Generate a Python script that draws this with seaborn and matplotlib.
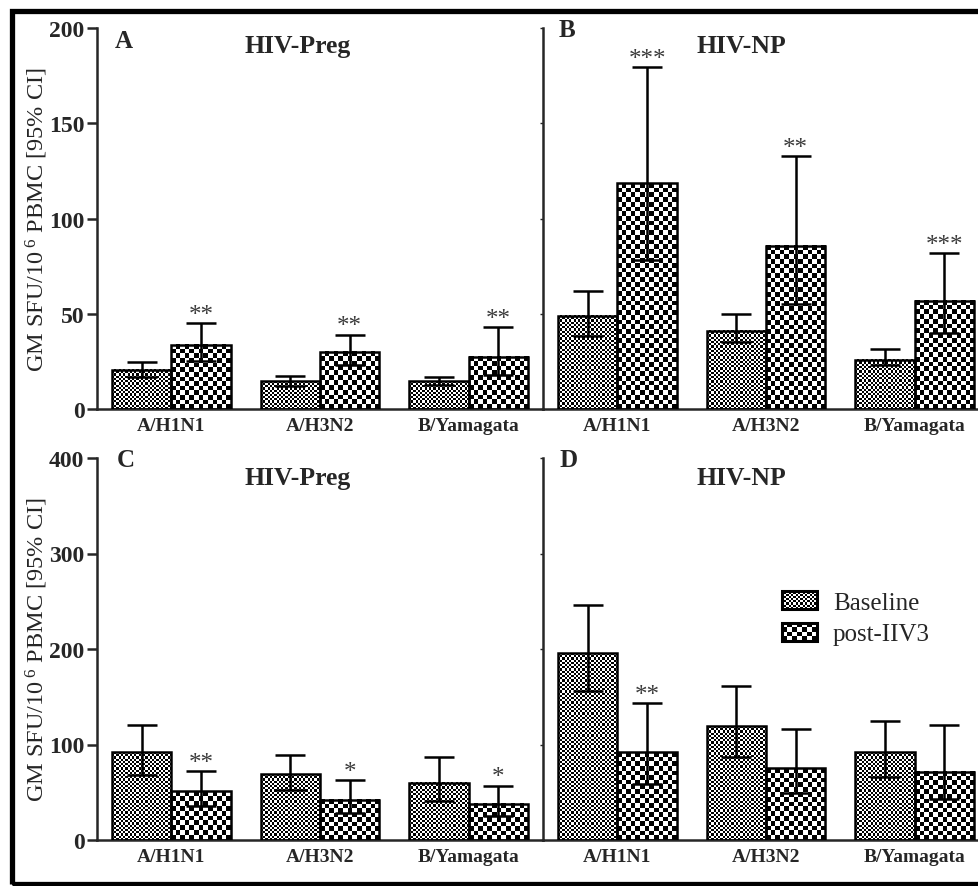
import numpy as np
import pandas as pd
import matplotlib
matplotlib.use("Agg")
import matplotlib.pyplot as plt
import seaborn as sns
from matplotlib.patches import Rectangle
from matplotlib.legend_handler import HandlerBase

# ---------------- data ----------------
categories = ["A/H1N1", "A/H3N2", "B/Yamagata"]
groups = ["Baseline", "post-IIV3"]

# Panel A (HIV-Preg, top)
A_base = [20.5, 14.6, 14.6]
A_base_lo = [17.0, 12.0, 12.5]
A_base_hi = [24.7, 17.5, 16.7]
A_post = [33.8, 30.0, 27.3]
A_post_lo = [25.0, 23.0, 18.0]
A_post_hi = [45.1, 39.0, 43.0]
A_stars = ["**", "**", "**"]

# Panel B (HIV-NP, top)
B_base = [49.0, 41.1, 25.9]
B_base_lo = [38.5, 35.0, 23.0]
B_base_hi = [62.0, 49.9, 31.3]
B_post = [118.5, 85.7, 56.9]
B_post_lo = [78.2, 55.0, 40.0]
B_post_hi = [179.4, 132.8, 81.9]
B_stars = ["***", "**", "***"]

# Panel C (HIV-Preg, bottom)
C_base = [91.8, 69.0, 59.7]
C_base_lo = [68.0, 52.7, 41.0]
C_base_hi = [120.7, 89.0, 87.3]
C_post = [51.0, 42.0, 37.7]
C_post_lo = [36.0, 28.0, 25.0]
C_post_hi = [72.0, 62.8, 57.0]
C_stars = ["**", "*", "*"]

# Panel D (HIV-NP, bottom)
D_base = [195.8, 119.0, 91.8]
D_base_lo = [156.0, 86.6, 65.6]
D_base_hi = [246.4, 161.6, 125.0]
D_post = [91.8, 75.0, 71.7]
D_post_lo = [58.6, 49.0, 43.0]
D_post_hi = [143.5, 116.0, 120.7]
D_stars = ["**", "", ""]

panel_letters = ["A", "B", "C", "D"]
panel_titles = ["HIV-Preg", "HIV-NP", "HIV-Preg", "HIV-NP"]
ylabel = "GM SFU/10$^{\\ 6}$ PBMC [95% CI]"

# ---------------- style ----------------
sns.set_theme(style="ticks")
plt.rcParams['font.family'] = ['Liberation Serif', 'DejaVu Serif']
plt.rcParams['mathtext.fontset'] = 'custom'
plt.rcParams['mathtext.rm'] = 'Liberation Serif'
plt.rcParams['mathtext.it'] = 'Liberation Serif:italic'
plt.rcParams['mathtext.bf'] = 'Liberation Serif:bold'

W, H = 979, 887
fig = plt.figure(figsize=(W / 100, H / 100), dpi=100)

def fpos(x0, y0, x1, y1):
    return [x0 / W, 1 - y1 / H, (x1 - x0) / W, (y1 - y0) / H]

ax_A = fig.add_axes(fpos(97, 29, 543, 410))
ax_B = fig.add_axes(fpos(543, 29, 989, 410))
ax_C = fig.add_axes(fpos(97, 459, 543, 841))
ax_D = fig.add_axes(fpos(543, 459, 989, 841))

CELL = {"Baseline": 2.2, "post-IIV3": 4.7}


def checker(nr, nc):
    i, j = np.indices((max(nr, 1), max(nc, 1)))
    return ((i + j) % 2).astype(float)


def draw_panel(ax, base, blo, bhi, post, plo, phi, stars, ymax, left):
    df = pd.DataFrame({
        "strain": categories * 2,
        "group": [groups[0]] * 3 + [groups[1]] * 3,
        "value": list(base) + list(post),
    })
    sns.barplot(data=df, x="strain", y="value", hue="group", order=categories,
                hue_order=groups, palette=["white", "white"], errorbar=None,
                width=0.8, legend=False, ax=ax, zorder=3)
    ax.set_xlim(-0.5, 2.5)
    ax.set_ylim(0, ymax)
    fig.canvas.draw()
    los = [blo, plo]
    his = [bhi, phi]
    vals = [base, post]
    conts = list(ax.containers)[:2]
    for gi, cont in enumerate(conts):
        for k, bar in enumerate(list(cont.patches)):
            x0 = bar.get_x()
            w = bar.get_width()
            h = bar.get_height()
            p0 = ax.transData.transform((x0, 0))
            p1 = ax.transData.transform((x0 + w, h))
            pw, ph = abs(p1[0] - p0[0]), abs(p1[1] - p0[1])
            cs = CELL[groups[gi]]
            arr = checker(int(round(ph / cs)), int(round(pw / cs)))
            ax.imshow(arr, cmap="gray", extent=[x0, x0 + w, 0, h],
                      interpolation="nearest", aspect="auto", zorder=2,
                      origin="lower")
            bar.set_facecolor("none")
            bar.set_edgecolor("black")
            bar.set_linewidth(1.8)
            bar.set_zorder(4)
            cx = x0 + w / 2
            v = vals[gi][k]
            ax.errorbar(cx, v, yerr=[[v - los[gi][k]], [his[gi][k] - v]],
                        fmt="none", ecolor="black", elinewidth=1.8,
                        capsize=11, capthick=1.8, zorder=5)
            if gi == 1 and stars[k]:
                ax.annotate(stars[k], (cx, his[gi][k]), xytext=(0, -2),
                            textcoords="offset points", ha="center",
                            va="bottom", fontsize=18, color="#3a3a3a",
                            zorder=6)
    ax.set_xlim(-0.5, 2.5)
    ax.set_ylim(0, ymax)
    ax.set_xlabel("")
    ax.set_ylabel("")
    for s in ["top", "right"]:
        ax.spines[s].set_visible(False)
    ax.spines["left"].set_linewidth(1.8)
    ax.spines["bottom"].set_linewidth(1.8)
    ax.tick_params(axis="x", length=0, labelsize=14, pad=6)
    for t in ax.get_xticklabels():
        t.set_fontweight("bold")
    if left:
        ax.set_yticks(np.linspace(0, ymax, 5))
        ax.tick_params(axis="y", length=7, width=1.8, labelsize=17, pad=2)
        for t in ax.get_yticklabels():
            t.set_fontweight("bold")
        ax.set_ylabel(ylabel, fontsize=17.5)
        ax.yaxis.set_label_coords(-0.105, 0.5)
    else:
        ax.set_yticks(np.linspace(0, ymax, 5))
        ax.tick_params(axis="y", length=2, width=1.0, labelleft=False)
    ax.patch.set_alpha(0)


draw_panel(ax_A, A_base, A_base_lo, A_base_hi, A_post, A_post_lo, A_post_hi, A_stars, 200, True)
draw_panel(ax_B, B_base, B_base_lo, B_base_hi, B_post, B_post_lo, B_post_hi, B_stars, 200, False)
draw_panel(ax_C, C_base, C_base_lo, C_base_hi, C_post, C_post_lo, C_post_hi, C_stars, 400, True)
draw_panel(ax_D, D_base, D_base_lo, D_base_hi, D_post, D_post_lo, D_post_hi, D_stars, 400, False)

# panel letters and titles
letter_pos = [(0.06, 0.967), (0.054, 0.997), (0.065, 0.995), (0.058, 0.995)]
title_pos = [(0.45, 0.954), (0.444, 0.955), (0.45, 0.95), (0.444, 0.95)]
for ax, L, T, lp, tp in zip([ax_A, ax_B, ax_C, ax_D], panel_letters, panel_titles,
                            letter_pos, title_pos):
    ax.text(lp[0], lp[1], L, transform=ax.transAxes, ha="center", va="center",
            fontsize=18, fontweight="bold", clip_on=False)
    ax.text(tp[0], tp[1], T, transform=ax.transAxes, ha="center", va="center",
            fontsize=18.5, fontweight="bold", clip_on=False)


# legend with checker patches
class CheckerHandler(HandlerBase):
    def __init__(self, nx, ny):
        super().__init__()
        self.nx, self.ny = nx, ny

    def create_artists(self, legend, orig_handle, xdescent, ydescent, width,
                       height, fontsize, trans):
        arts = []
        cw, ch = width / self.nx, height / self.ny
        for i in range(self.nx):
            for j in range(self.ny):
                if (i + j) % 2 == 0:
                    arts.append(Rectangle((-xdescent + i * cw, -ydescent + j * ch),
                                          cw, ch, facecolor="black",
                                          edgecolor="none", transform=trans))
        arts.append(Rectangle((-xdescent, -ydescent), width, height,
                              facecolor="none", edgecolor="black", lw=2.2,
                              transform=trans))
        return arts


h_base = Rectangle((0, 0), 1, 1)
h_post = Rectangle((0, 0), 1, 1)
ax_D.legend([h_base, h_post], groups,
            handler_map={h_base: CheckerHandler(15, 8), h_post: CheckerHandler(7, 4)},
            loc="upper left", bbox_to_anchor=(0.485, 0.71), frameon=False,
            fontsize=18, handlelength=1.4, handleheight=0.72, handletextpad=0.65,
            labelspacing=0.35)

# outer frame
fig.patches.append(Rectangle((12.5 / W, 2.5 / H), 1.2, (885 - 2.5 - 10) / H,
                             transform=fig.transFigure, facecolor="none",
                             edgecolor="black", lw=3.8, zorder=10))

fig.savefig("out.png", dpi=100)
